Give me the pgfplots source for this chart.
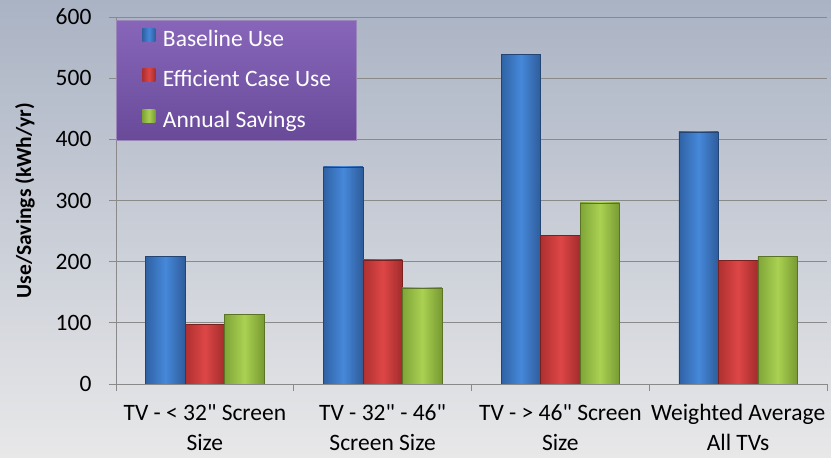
\documentclass[border=0pt]{standalone}
\usepackage{pgfplots}
\pgfplotsset{compat=1.18}
\usepackage{fontspec}
\setmainfont{Carlito}[Ligatures=TeXOff]
\newcommand{\dq}{\symbol{34}}
\definecolor{bgtop}{HTML}{AAB3C4}
\definecolor{bgmid}{HTML}{D9DCE1}
\definecolor{bgbot}{HTML}{E8E8E9}
\definecolor{gridgray}{HTML}{8A8A8A}
\definecolor{axisgray}{HTML}{8A8A8A}
\definecolor{bL}{HTML}{2F62A4}
\definecolor{bM}{HTML}{4688DA}
\definecolor{bR}{HTML}{2E5C9A}
\definecolor{rL}{HTML}{AE3030}
\definecolor{rM}{HTML}{DE4646}
\definecolor{rR}{HTML}{A22C2C}
\definecolor{gL}{HTML}{7FA538}
\definecolor{gM}{HTML}{AAD152}
\definecolor{gR}{HTML}{789A32}
\definecolor{legtop}{HTML}{8766BA}
\definecolor{legbot}{HTML}{694A99}
\definecolor{legborder}{HTML}{9A86B8}
\pgfplotsset{
  bluebar/.style={left color=bL, right color=bR, middle color=bM, draw=bR!75!black, line width=0.4pt, forget plot},
  redbar/.style={left color=rL, right color=rR, middle color=rM, draw=rR!75!black, line width=0.4pt, forget plot},
  greenbar/.style={left color=gL, right color=gR, middle color=gM, draw=gR!75!black, line width=0.4pt, forget plot},
}
\newcommand{\mybar}[4]{\addplot[#1] coordinates {(#2,0) (#2,#4) (#3,#4) (#3,0)} -- cycle;}
\begin{document}
\begin{tikzpicture}
\shade[top color=bgtop, middle color=bgmid, bottom color=bgbot] (-116pt,-74pt) rectangle (715pt,384pt);
\begin{axis}[
  scale only axis, width=711pt, height=367pt,
  at={(0pt,0pt)}, anchor=south west,
  ymin=0, ymax=600, ytick={0,100,...,600},
  xmin=-0.5, xmax=3.5,
  xtick={0,1,2,3},
  xticklabels={{TV - < 32\dq\ Screen\\Size},{TV - 32\dq\ - 46\dq\\Screen Size},{TV - > 46\dq\ Screen\\Size},{Weighted Average\\All TVs}},
  xticklabel style={align=center, font=\fontsize{23.5}{30}\selectfont, yshift=-10pt},
  yticklabel style={font=\fontsize{23.5}{28}\selectfont, xshift=-14pt},
  /pgf/number format/assume math mode=true,
  ymajorgrids, grid style={gridgray, line width=0.8pt},
  axis x line*=bottom, axis y line*=left,
  axis line style={axisgray, line width=0.8pt, -},
  tick align=outside, major tick length=7pt, minor tick length=7pt,
  major x tick style={draw=none},
  minor xtick={-0.5,0.5,1.5,2.5,3.5},
  minor x tick style={axisgray, line width=0.8pt},
  major y tick style={axisgray, line width=0.8pt},
  ylabel={Use/Savings (kWh/yr)},
  ylabel style={at={(axis description cs:-0.128,0.5)}, anchor=center, font=\bfseries\fontsize{21.5}{25}\selectfont},
  legend cell align=left,
  legend style={at={(0,1)}, anchor=north west, yshift=-3pt,
    top color=legtop, bottom color=legbot, draw=legborder, line width=1pt,
    text=white, font=\fontsize{23.5}{28}\selectfont,
    inner xsep=26pt, inner ysep=8pt, row sep=17.5pt,
    nodes={inner sep=0pt, text height=17pt, text depth=5pt}},
  mylegend/.style={legend image code/.code={\path[##1,draw=none] (0pt,-1pt) rectangle (13pt,12pt); \path (20pt,0pt);}},
]
\addlegendimage{mylegend, left color=bL, right color=bR, middle color=bM}
\addlegendimage{mylegend, left color=rL, right color=rR, middle color=rM}
\addlegendimage{mylegend, left color=gL, right color=gR, middle color=gM}
% Baseline Use
\mybar{bluebar}{-0.3335}{-0.1112}{209}
\mybar{bluebar}{0.6665}{0.8888}{355}
\mybar{bluebar}{1.6665}{1.8888}{539}
\mybar{bluebar}{2.6665}{2.8888}{412}
% Efficient Case Use
\mybar{redbar}{-0.1112}{0.1112}{98}
\mybar{redbar}{0.8888}{1.1112}{203}
\mybar{redbar}{1.8888}{2.1112}{243}
\mybar{redbar}{2.8888}{3.1112}{202}
% Annual Savings
\mybar{greenbar}{0.1112}{0.3335}{114}
\mybar{greenbar}{1.1112}{1.3335}{157}
\mybar{greenbar}{2.1112}{2.3335}{296}
\mybar{greenbar}{3.1112}{3.3335}{209}
\legend{Baseline Use, Efficient Case Use, Annual Savings}
\end{axis}
\pgfresetboundingbox
\path[use as bounding box] (-116pt,-74pt) rectangle (715pt,384pt);
\end{tikzpicture}
\end{document}
